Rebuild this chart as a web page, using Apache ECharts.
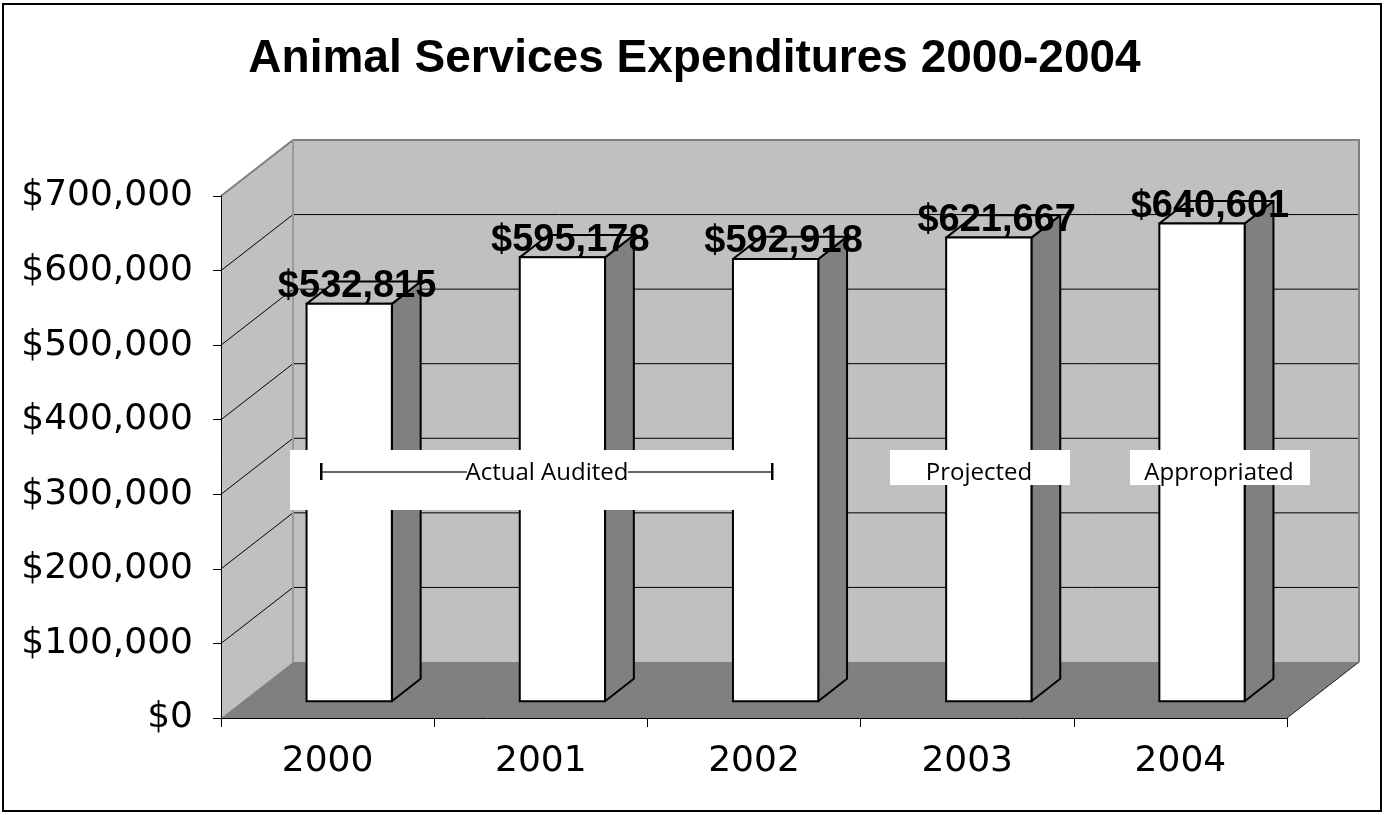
<!DOCTYPE html>
<html>
<head>
<meta charset="utf-8">
<title>Animal Services Expenditures 2000-2004</title>
<script src="https://cdn.jsdelivr.net/npm/echarts@6/dist/echarts.min.js"></script>
<style>
  html, body { margin: 0; padding: 0; background: #fff; }
  #chart { width: 1389px; height: 815px; }
</style>
</head>
<body>
<div id="chart"></div>
<script>
// data
var categories = ['2000', '2001', '2002', '2003', '2004'];
var expenditures = [532815, 595178, 592918, 621667, 640601];
var yMin = 0;
var yMax = 700000;
var yStep = 100000;

// fake 3D: depth offset of the back wall, bar sits in the middle of the depth
var DX = 72, DY = -56;
var BAR_D0 = 0.3, BAR_D1 = 0.7;
var BAR_RATIO = 0.4;

function money(v) {
	return '$' + String(v).replace(/\B(?=(\d{3})+(?!\d))/g, ',');
}

var myChart = echarts.init(document.getElementById('chart'));

// walls + floor + gridlines, drawn from the axis scale
function renderWalls(params, api) {
	var band = api.size([1, 0])[0];
	var xl = api.coord([0, yMin])[0] - band / 2;
	var xr = api.coord([categories.length - 1, yMin])[0] + band / 2;
	var y0 = api.coord([0, yMin])[1];
	var yt = api.coord([0, yMax])[1];
	var kids = [];
	kids.push({
		type: 'rect',
		shape: { x: xl + DX, y: yt + DY, width: xr - xl, height: y0 - yt },
		style: { fill: '#c0c0c0' }
	});
	kids.push({
		type: 'polygon',
		shape: { points: [[xl, yt], [xl + DX, yt + DY], [xl + DX, y0 + DY], [xl, y0]] },
		style: { fill: '#c0c0c0' }
	});
	kids.push({
		type: 'polygon',
		shape: { points: [[xl, y0], [xl + DX, y0 + DY], [xr + DX, y0 + DY], [xr, y0]] },
		style: { fill: '#808080' }
	});
	for (var v = yMin + yStep; v < yMax; v += yStep) {
		var y = api.coord([0, v])[1];
		kids.push({
			type: 'polyline',
			shape: { points: [[xl, y], [xl + DX, y + DY], [xr + DX, y + DY]] },
			style: { stroke: '#000', lineWidth: 1, fill: null }
		});
	}
	kids.push({
		type: 'polyline',
		shape: { points: [[xl, yt], [xl + DX, yt + DY], [xr + DX, yt + DY], [xr + DX, y0 + DY]] },
		style: { stroke: '#808080', lineWidth: 2, fill: null }
	});
	kids.push({
		type: 'line',
		shape: { x1: xl + DX, y1: yt + DY, x2: xl + DX, y2: y0 + DY },
		style: { stroke: '#999', lineWidth: 2 }
	});
	kids.push({
		type: 'line',
		shape: { x1: xr, y1: y0, x2: xr + DX, y2: y0 + DY },
		style: { stroke: '#222', lineWidth: 1 }
	});
	return { type: 'group', children: kids };
}

function renderBar(params, api) {
	var i = api.value(0);
	var v = api.value(1);
	var top = api.coord([i, v]);
	var bot = api.coord([i, yMin]);
	var w = api.size([1, 0])[0] * BAR_RATIO;
	var xl = top[0] - w / 2 + DX * BAR_D0;
	var xr = xl + w;
	var yt = top[1] + DY * BAR_D0;
	var yb = bot[1] + DY * BAR_D0;
	var ddx = DX * (BAR_D1 - BAR_D0);
	var ddy = DY * (BAR_D1 - BAR_D0);
	var topPts = [[xl, yt], [xr, yt], [xr + ddx, yt + ddy], [xl + ddx, yt + ddy]];
	return {
		type: 'group',
		children: [
			{
				type: 'polygon',
				shape: { points: [[xr, yt], [xr + ddx, yt + ddy], [xr + ddx, yb + ddy], [xr, yb]] },
				style: { fill: '#808080', stroke: '#000', lineWidth: 2, lineJoin: 'round' }
			},
			{
				type: 'polygon',
				shape: { points: topPts },
				style: { fill: '#c0c0c0' }
			},
			{
				type: 'text',
				x: top[0] + DX * 0.41,
				y: top[1] - 34,
				style: {
					text: money(v),
					fill: '#000',
					font: 'bold 38px "Liberation Sans", Arial, sans-serif',
					align: 'center',
					verticalAlign: 'middle'
				}
			},
			// top face outline runs over the label, like in the picture
			{
				type: 'polygon',
				shape: { points: topPts },
				style: { fill: null, stroke: '#000', lineWidth: 2, lineJoin: 'round' }
			},
			{
				type: 'rect',
				shape: { x: xl, y: yt, width: w, height: yb - yt },
				style: { fill: '#fff', stroke: '#000', lineWidth: 2 }
			}
		]
	};
}

var barData = [];
for (var k = 0; k < categories.length; k++) {
	barData.push([k, expenditures[k]]);
}

var noteFont = '24px "Open Sans", sans-serif';

var option = {
	backgroundColor: '#fff',
	animation: false,
	title: {
		text: 'Animal Services Expenditures 2000-2004',
		left: 'center',
		top: 31,
		textStyle: {
			fontFamily: '"Liberation Sans", Arial, sans-serif',
			fontWeight: 'bold',
			fontSize: 46,
			color: '#000'
		}
	},
	grid: {
		left: 221,
		right: 102,
		top: 196,
		bottom: 97
	},
	xAxis: {
		type: 'category',
		data: categories,
		z: 10,
		axisLine: { lineStyle: { color: '#000', width: 1 } },
		axisTick: { show: true, length: 9, lineStyle: { color: '#000' } },
		axisLabel: {
			margin: 26,
			color: '#000',
			fontFamily: '"DejaVu Sans", sans-serif',
			fontSize: 36
		}
	},
	yAxis: {
		type: 'value',
		min: yMin,
		max: yMax,
		interval: yStep,
		z: 10,
		axisLine: { show: true, lineStyle: { color: '#000', width: 1 } },
		axisTick: { show: true, length: 8, lineStyle: { color: '#000' } },
		splitLine: { show: false },
		axisLabel: {
			margin: 28,
			color: '#000',
			fontFamily: '"DejaVu Sans", sans-serif',
			fontSize: 36,
			formatter: money
		}
	},
	series: [
		{
			type: 'custom',
			name: 'walls',
			silent: true,
			clip: false,
			z: 1,
			renderItem: renderWalls,
			data: [[0, 0]]
		},
		{
			type: 'custom',
			name: 'Expenditures',
			clip: false,
			z: 2,
			renderItem: renderBar,
			encode: { x: 0, y: 1 },
			data: barData
		}
	],
	graphic: {
		elements: [
			{ type: 'rect', z: 100, shape: { x: 3, y: 4, width: 1378, height: 807 }, style: { fill: null, stroke: '#000', lineWidth: 2 } },

			{ type: 'rect', z: 100, shape: { x: 290, y: 450, width: 500, height: 60 }, style: { fill: '#fff' } },
			{ type: 'line', z: 101, shape: { x1: 321, y1: 472, x2: 467, y2: 472 }, style: { stroke: '#333', lineWidth: 1.5 } },
			{ type: 'line', z: 101, shape: { x1: 628, y1: 472, x2: 773, y2: 472 }, style: { stroke: '#333', lineWidth: 1.5 } },
			{ type: 'rect', z: 101, shape: { x: 320, y: 463, width: 2.5, height: 17 }, style: { fill: '#000' } },
			{ type: 'rect', z: 101, shape: { x: 771, y: 463, width: 2.5, height: 17 }, style: { fill: '#000' } },
			{ type: 'text', z: 101, x: 547, y: 473, style: { text: 'Actual Audited', font: noteFont, fill: '#000', align: 'center', verticalAlign: 'middle' } },

			{ type: 'rect', z: 100, shape: { x: 890, y: 450, width: 180, height: 35 }, style: { fill: '#fff' } },
			{ type: 'text', z: 101, x: 979, y: 473, style: { text: 'Projected', font: noteFont, fill: '#000', align: 'center', verticalAlign: 'middle' } },

			{ type: 'rect', z: 100, shape: { x: 1130, y: 450, width: 180, height: 35 }, style: { fill: '#fff' } },
			{ type: 'text', z: 101, x: 1219, y: 473, style: { text: 'Appropriated', font: noteFont, fill: '#000', align: 'center', verticalAlign: 'middle' } }
		]
	}
};

myChart.setOption(option);
</script>
</body>
</html>
